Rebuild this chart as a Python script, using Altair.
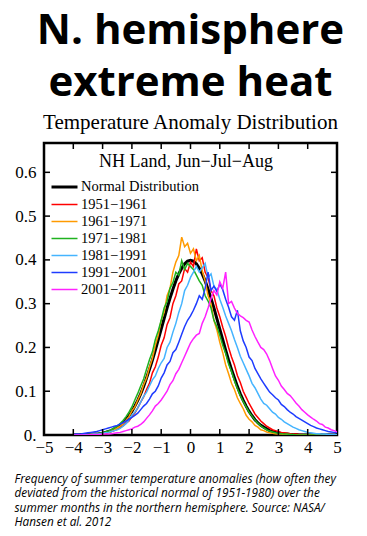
import altair as alt
import pandas as pd

# ---------------- data ----------------
X_GRID = [
    -4.0, -3.9, -3.8, -3.7, -3.6, -3.5, -3.4, -3.3, -3.2, -3.1,
    -3.0, -2.9, -2.8, -2.7, -2.6, -2.5, -2.4, -2.3, -2.2, -2.1,
    -2.0, -1.9, -1.8, -1.7, -1.6, -1.5, -1.4, -1.3, -1.2, -1.1,
    -1.0, -0.9, -0.8, -0.7, -0.6, -0.5, -0.4, -0.3, -0.2, -0.1,
    0.0, 0.1, 0.2, 0.3, 0.4, 0.5, 0.6, 0.7, 0.8, 0.9,
    1.0, 1.1, 1.2, 1.3, 1.4, 1.5, 1.6, 1.7, 1.8, 1.9,
    2.0, 2.1, 2.2, 2.3, 2.4, 2.5, 2.6, 2.7, 2.8, 2.9,
    3.0, 3.1, 3.2, 3.3, 3.4, 3.5, 3.6, 3.7, 3.8, 3.9,
    4.0, 4.1, 4.2, 4.3, 4.4, 4.5, 4.6, 4.7, 4.8, 4.9, 5.0,
]

NORMAL = [
    0, 0, 0, 0.001, 0.001, 0.001, 0.001, 0.002, 0.002, 0.003,
    0.004, 0.006, 0.008, 0.010, 0.014, 0.018, 0.022, 0.028, 0.035, 0.044,
    0.054, 0.066, 0.079, 0.094, 0.111, 0.130, 0.150, 0.171, 0.194, 0.218,
    0.242, 0.266, 0.290, 0.312, 0.333, 0.352, 0.368, 0.381, 0.391, 0.397,
    0.399, 0.397, 0.391, 0.381, 0.368, 0.352, 0.333, 0.312, 0.290, 0.266,
    0.242, 0.218, 0.194, 0.171, 0.150, 0.130, 0.111, 0.094, 0.079, 0.066,
    0.054, 0.044, 0.035, 0.028, 0.022, 0.018, 0.014, 0.010, 0.008, 0.006,
    0.004, 0.003, 0.002, 0.002, 0.001, 0.001, 0.001, 0, 0, 0,
    0, 0, 0, 0, 0, 0, 0, 0, 0, 0, 0,
]

Y1951 = [
    0, 0, 0, 0, 0.001, 0.001, 0.001, 0.002, 0.001, 0.003,
    0.003, 0.004, 0.006, 0.008, 0.010, 0.013, 0.017, 0.021, 0.027, 0.032,
    0.042, 0.050, 0.062, 0.075, 0.087, 0.104, 0.118, 0.142, 0.156, 0.178,
    0.205, 0.222, 0.252, 0.268, 0.300, 0.318, 0.345, 0.352, 0.380, 0.372,
    0.395, 0.385, 0.425, 0.398, 0.405, 0.372, 0.360, 0.330, 0.318, 0.290,
    0.270, 0.246, 0.225, 0.200, 0.178, 0.160, 0.136, 0.120, 0.100, 0.086,
    0.072, 0.060, 0.048, 0.040, 0.032, 0.026, 0.020, 0.016, 0.012, 0.010,
    0.008, 0.006, 0.005, 0.004, 0.003, 0.002, 0.002, 0.001, 0.001, 0,
    0, 0, 0, 0, 0, 0, 0, 0, 0, 0, 0,
]

Y1961 = [
    0, 0, 0, 0, 0.001, 0, 0.001, 0.001, 0.002, 0.002,
    0.003, 0.005, 0.006, 0.009, 0.012, 0.016, 0.020, 0.026, 0.034, 0.042,
    0.055, 0.064, 0.080, 0.094, 0.115, 0.130, 0.155, 0.175, 0.205, 0.228,
    0.262, 0.280, 0.318, 0.335, 0.372, 0.395, 0.410, 0.452, 0.430, 0.438,
    0.415, 0.425, 0.398, 0.410, 0.375, 0.352, 0.318, 0.300, 0.262, 0.240,
    0.212, 0.188, 0.160, 0.140, 0.118, 0.104, 0.085, 0.072, 0.060, 0.045,
    0.036, 0.030, 0.022, 0.018, 0.012, 0.010, 0.007, 0.005, 0.004, 0.003,
    0.002, 0.002, 0.001, 0.001, 0, 0, 0, 0, 0, 0,
    0, 0, 0, 0, 0, 0, 0, 0, 0, 0, 0,
]

Y1971 = [
    0, 0, 0, 0.001, 0.001, 0.001, 0.002, 0.002, 0.003, 0.004,
    0.005, 0.007, 0.009, 0.012, 0.016, 0.020, 0.026, 0.033, 0.042, 0.052,
    0.064, 0.080, 0.095, 0.112, 0.128, 0.150, 0.172, 0.190, 0.218, 0.238,
    0.262, 0.290, 0.305, 0.335, 0.348, 0.372, 0.365, 0.398, 0.378, 0.392,
    0.385, 0.378, 0.365, 0.352, 0.342, 0.318, 0.306, 0.290, 0.262, 0.248,
    0.228, 0.205, 0.186, 0.162, 0.145, 0.124, 0.106, 0.090, 0.076, 0.064,
    0.052, 0.043, 0.034, 0.027, 0.021, 0.016, 0.012, 0.009, 0.007, 0.005,
    0.004, 0.003, 0.002, 0.002, 0.001, 0.001, 0, 0, 0, 0,
    0, 0, 0, 0, 0, 0, 0, 0, 0, 0, 0,
]

Y1981 = [
    0, 0, 0, 0, 0.001, 0.001, 0.001, 0.002, 0.002, 0.003,
    0.004, 0.005, 0.006, 0.008, 0.010, 0.012, 0.015, 0.020, 0.026, 0.034,
    0.045, 0.052, 0.062, 0.075, 0.088, 0.098, 0.112, 0.126, 0.135, 0.152,
    0.165, 0.175, 0.200, 0.212, 0.235, 0.255, 0.280, 0.300, 0.330, 0.342,
    0.360, 0.372, 0.385, 0.372, 0.382, 0.392, 0.360, 0.368, 0.340, 0.332,
    0.310, 0.292, 0.272, 0.255, 0.238, 0.218, 0.200, 0.180, 0.165, 0.150,
    0.135, 0.118, 0.108, 0.095, 0.082, 0.072, 0.068, 0.060, 0.052, 0.048,
    0.040, 0.036, 0.030, 0.026, 0.022, 0.018, 0.015, 0.012, 0.010, 0.008,
    0.006, 0.005, 0.004, 0.003, 0.003, 0.002, 0.002, 0.001, 0.001, 0.001, 0,
]

Y1991 = [
    0.001, 0.002, 0.002, 0.003, 0.004, 0.005, 0.006, 0.007, 0.008, 0.010,
    0.012, 0.014, 0.016, 0.018, 0.020, 0.022, 0.025, 0.028, 0.032, 0.036,
    0.040, 0.045, 0.050, 0.058, 0.066, 0.072, 0.082, 0.094, 0.100, 0.112,
    0.130, 0.142, 0.160, 0.168, 0.188, 0.195, 0.212, 0.230, 0.248, 0.262,
    0.272, 0.285, 0.300, 0.318, 0.310, 0.335, 0.372, 0.330, 0.340, 0.328,
    0.345, 0.332, 0.310, 0.292, 0.270, 0.262, 0.285, 0.238, 0.215, 0.200,
    0.178, 0.170, 0.152, 0.140, 0.128, 0.118, 0.108, 0.098, 0.092, 0.085,
    0.080, 0.070, 0.065, 0.058, 0.052, 0.048, 0.042, 0.038, 0.034, 0.030,
    0.026, 0.022, 0.019, 0.016, 0.014, 0.012, 0.010, 0.008, 0.007, 0.006, 0.005,
]

Y2001 = [
    0, 0, 0, 0, 0, 0, 0.001, 0.001, 0.001, 0.001,
    0.002, 0.002, 0.002, 0.003, 0.004, 0.005, 0.006, 0.008, 0.010, 0.012,
    0.014, 0.018, 0.020, 0.024, 0.030, 0.038, 0.046, 0.055, 0.066, 0.072,
    0.080, 0.090, 0.100, 0.115, 0.124, 0.140, 0.150, 0.165, 0.180, 0.195,
    0.210, 0.220, 0.228, 0.232, 0.255, 0.270, 0.290, 0.312, 0.330, 0.320,
    0.350, 0.335, 0.372, 0.300, 0.305, 0.290, 0.278, 0.272, 0.268, 0.262,
    0.258, 0.240, 0.225, 0.212, 0.200, 0.195, 0.185, 0.170, 0.152, 0.135,
    0.125, 0.112, 0.104, 0.095, 0.090, 0.082, 0.073, 0.066, 0.058, 0.052,
    0.046, 0.041, 0.036, 0.032, 0.026, 0.024, 0.018, 0.016, 0.012, 0.010, 0.007,
]

SERIES_NAMES = ["Normal Distribution", "1951\u22121961", "1961\u22121971",
                "1971\u22121981", "1981\u22121991", "1991\u22122001", "2001\u22122011"]
SERIES_VALUES = [NORMAL, Y1951, Y1961, Y1971, Y1981, Y1991, Y2001]
SERIES_COLORS = ["#000000", "#ff0000", "#ff9a00", "#1fb21f", "#45b4ff", "#1e3cff", "#ff22ff"]
SERIES_WIDTHS = [3.0, 1.5, 1.5, 1.5, 1.5, 1.5, 1.5]

X_LABELS = [-5, -4, -3, -2, -1, 0, 1, 2, 3, 4, 5]
X_TICKS = [-4, -3, -2, -1, 0, 1, 2, 3, 4]
Y_LABELS = [0.0, 0.1, 0.2, 0.3, 0.4, 0.5, 0.6]
Y_TICKS = [0.1, 0.2, 0.3, 0.4, 0.5, 0.6]

TITLE_LINES = ["N. hemisphere", "extreme heat"]
SUBTITLE = "Temperature Anomaly Distribution"
PANEL_LABEL = "NH Land, Jun\u2212Jul\u2212Aug"
CAPTION_LINES = [
    "Frequency of summer temperature anomalies (how often they",
    "deviated from the historical normal of 1951-1980) over the",
    "summer months in the northern hemisphere.  Source: NASA/",
    "Hansen et al. 2012",
]

# ---------------- build table ----------------
rows = []
for k, (name, vals) in enumerate(zip(SERIES_NAMES, SERIES_VALUES)):
    for x, v in zip(X_GRID, vals):
        rows.append({"x": x, "y": v, "series": name, "k": k})
df = pd.DataFrame(rows)

W, H = 293, 292
SERIF = "Liberation Serif"
X_SCALE = alt.Scale(domain=[-5, 5], nice=False)
Y_SCALE = alt.Scale(domain=[0, 0.667], nice=False, zero=True)

legend = alt.Legend(
    title=None, orient="none", legendX=6, legendY=36, padding=0,
    symbolType="M-1,0H3", symbolSize=169, labelOffset=15,
    labelFont=SERIF, labelFontSize=14.5, labelColor="black",
    rowPadding=2,
)

X_AXIS = alt.Axis(
    values=X_LABELS,
    labelExpr="datum.value < 0 ? '\u2212' + abs(datum.value) : datum.label",
    ticks=False, domain=False, grid=False,
    labelFont=SERIF, labelFontSize=17, labelColor="black", labelPadding=4,
    labelFlush=False, labelOverlap=False, labelBound=False,
    title=CAPTION_LINES, titleFont="Open Sans", titleFontStyle="italic",
    titleFontWeight="normal", titleFontSize=11.8, titleColor="black",
    titleAlign="left", titleAnchor="start", titleX=-30, titleY=47,
    titleBaseline="alphabetic", titleLineHeight=14.5,
)
Y_AXIS = alt.Axis(
    values=Y_LABELS,
    labelExpr="datum.value == 0 ? '0.' : format(datum.value, '.1f')",
    ticks=False, domain=False, grid=False,
    labelFont=SERIF, labelFontSize=17, labelColor="black", labelPadding=8,
    labelFlush=False, labelOverlap=False, labelBound=False, title=None,
)

color_enc = alt.Color("series:N", scale=alt.Scale(domain=SERIES_NAMES, range=SERIES_COLORS),
                      sort=SERIES_NAMES, legend=legend)
width_enc = alt.StrokeWidth("series:N",
                            scale=alt.Scale(type="ordinal", domain=SERIES_NAMES, range=SERIES_WIDTHS),
                            sort=SERIES_NAMES, legend=legend)

# one layer per series, drawn in legend order (black first, magenta on top)
line_layers = []
for name in SERIES_NAMES:
    line_layers.append(
        alt.Chart(df).transform_filter(alt.datum.series == name).mark_line(clip=True).encode(
            x=alt.X("x:Q", scale=X_SCALE, axis=X_AXIS),
            y=alt.Y("y:Q", scale=Y_SCALE, axis=Y_AXIS),
            color=color_enc, strokeWidth=width_enc, order=alt.Order("x:Q"),
        )
    )

xt = pd.DataFrame({"t": X_TICKS})
yt = pd.DataFrame({"t": Y_TICKS})
tick_style = dict(color="black", strokeWidth=1.5)
bottom_ticks = alt.Chart(xt).mark_rule(**tick_style).encode(
    x=alt.X("t:Q", scale=X_SCALE, axis=X_AXIS), y=alt.value(H), y2=alt.value(H - 6))
top_ticks = alt.Chart(xt).mark_rule(**tick_style).encode(
    x=alt.X("t:Q", scale=X_SCALE, axis=X_AXIS), y=alt.value(0), y2=alt.value(6))
left_ticks = alt.Chart(yt).mark_rule(**tick_style).encode(
    y=alt.Y("t:Q", scale=Y_SCALE, axis=Y_AXIS), x=alt.value(0), x2=alt.value(6))
right_ticks = alt.Chart(yt).mark_rule(**tick_style).encode(
    y=alt.Y("t:Q", scale=Y_SCALE, axis=Y_AXIS), x=alt.value(W), x2=alt.value(W - 6))

panel = alt.Chart(pd.DataFrame({"label": [PANEL_LABEL]})).mark_text(
    font=SERIF, fontSize=18, align="center", baseline="alphabetic", color="black"
).encode(text="label:N", x=alt.value(142), y=alt.value(24))

chart = alt.layer(
    *line_layers, bottom_ticks, top_ticks, left_ticks, right_ticks, panel
).properties(
    width=W, height=H,
    title=alt.TitleParams(
        text=TITLE_LINES, subtitle=SUBTITLE,
        font="Open Sans", fontSize=42, fontWeight="bold", lineHeight=52, color="black",
        subtitleFont=SERIF, subtitleFontSize=21, subtitleColor="black",
        subtitlePadding=7, anchor="middle", offset=8,
    ),
    autosize=alt.AutoSizeParams(type="none"),
    padding={"left": 36, "top": 135, "right": 22, "bottom": 93},
    background="white",
).configure_view(
    stroke="black", strokeWidth=2.5
).configure_axis(
    labelOverlap=False
)

chart.save("out.html", embed_options={"renderer": "svg", "actions": False})
